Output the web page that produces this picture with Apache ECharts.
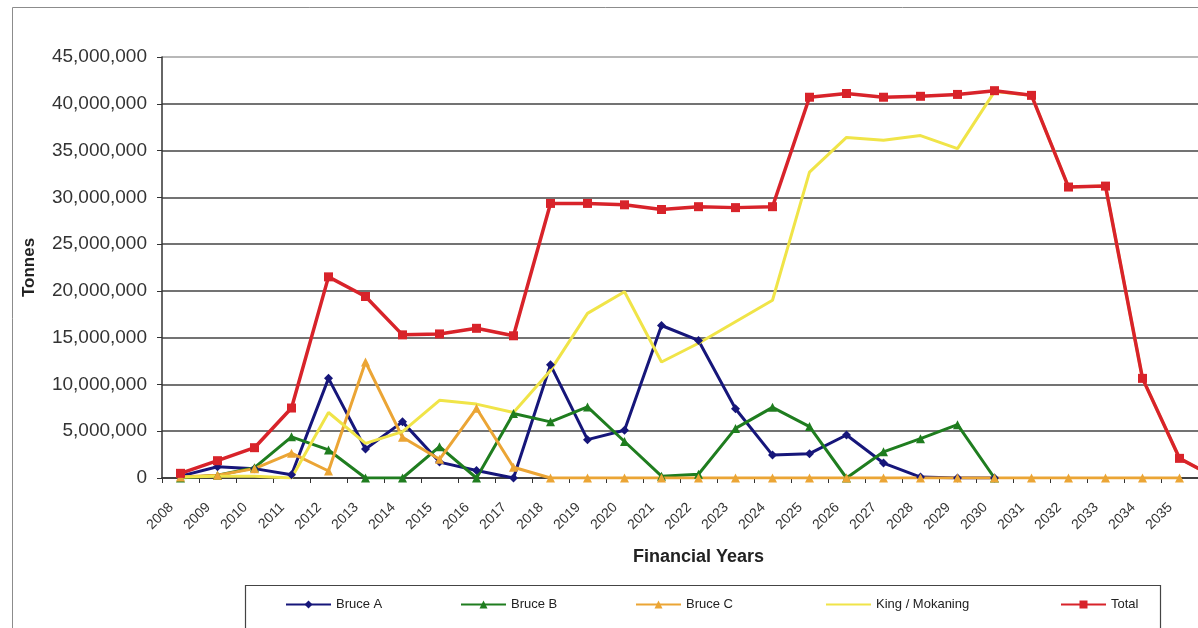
<!DOCTYPE html>
<html>
<head>
<meta charset="utf-8">
<script src="https://cdn.jsdelivr.net/npm/echarts@6/dist/echarts.min.js"></script>
<style>
  html, body { margin: 0; padding: 0; background: #ffffff; }
  #chart { width: 1198px; height: 628px; }
</style>
</head>
<body>
<div id="chart"></div>
<script>
// Financial years (last category is the partially visible year beyond the crop)
var years = ['2008','2009','2010','2011','2012','2013','2014','2015','2016','2017',
             '2018','2019','2020','2021','2022','2023','2024','2025','2026','2027',
             '2028','2029','2030','2031','2032','2033','2034','2035',''];

var bruceA = [200000, 1200000, 1000000, 350000, 10650000, 3100000, 6000000, 1700000, 800000, 0,
              12100000, 4100000, 5100000, 16300000, 14700000, 7400000, 2450000, 2600000, 4600000, 1600000,
              100000, 0, 0, null, null, null, null, null, null];

var bruceB = [0, 300000, 1100000, 4400000, 3000000, 0, 0, 3350000, 0, 6900000,
              6000000, 7600000, 3900000, 200000, 400000, 5300000, 7550000, 5500000, 0, 2800000,
              4200000, 5700000, 0, null, null, null, null, null, null];

var bruceC = [100000, 300000, 1000000, 2650000, 750000, 12400000, 4350000, 2000000, 7450000, 1150000,
              0, 0, 0, 0, 0, 0, 0, 0, 0, 0,
              0, 0, 0, 0, 0, 0, 0, 0, null];

var kingMokaning = [100000, 200000, 200000, 0, 7000000, 3700000, 4950000, 8300000, 7900000, 7000000,
                    11500000, 17600000, 19900000, 12400000, 14400000, 16700000, 19000000, 32700000, 36400000, 36100000,
                    36600000, 35200000, 41300000, 40900000, 31100000, 31200000, 10650000, 2100000, 0];

var total = [500000, 1850000, 3240000, 7480000, 21500000, 19400000, 15300000, 15400000, 16000000, 15200000,
             29350000, 29350000, 29200000, 28700000, 29000000, 28900000, 29000000, 40700000, 41100000, 40700000,
             40800000, 41000000, 41400000, 40900000, 31100000, 31200000, 10650000, 2100000, 0];

var seriesNames = ['Bruce A', 'Bruce B', 'Bruce C', 'King / Mokaning', 'Total'];
var seriesColors = ['#16167a', '#1f7d1f', '#eba535', '#f0e448', '#d8232a'];

var chart = echarts.init(document.getElementById('chart'), null, { renderer: 'canvas' });

function mkSeries(name, data, color, symbol, size, width) {
  return {
    name: name,
    type: 'line',
    data: data,
    symbol: symbol,
    symbolSize: size,
    showSymbol: symbol !== 'none',
    itemStyle: { color: color },
    lineStyle: { color: color, width: width },
    connectNulls: false,
    emphasis: { disabled: true }
  };
}

var legendLefts = [285, 460, 635, 825, 1060];

var legends = seriesNames.map(function (n, i) {
  var d = { name: n };
  if (n === 'King / Mokaning') { d.itemStyle = { opacity: 0 }; }
  return {
    data: [d],
    left: legendLefts[i],
    top: 598,
    padding: 0,
    itemWidth: 45,
    itemHeight: 10,
    selectedMode: false,
    textStyle: { fontFamily: 'Liberation Sans, Arial, sans-serif', fontSize: 13, color: '#222222' }
  };
});

var option = {
  animation: false,
  backgroundColor: '#ffffff',
  graphic: [{
    type: 'rect',
    shape: { x: 12.5, y: 7.5, width: 1300, height: 700 },
    style: { fill: 'none', stroke: '#8c8c8c', lineWidth: 1 },
    silent: true
  }, {
    type: 'rect',
    shape: { x: 245.5, y: 585.5, width: 915, height: 70 },
    style: { fill: 'none', stroke: '#444444', lineWidth: 1.2 },
    silent: true
  }],
  grid: { left: 162, top: 57, width: 1073, bottom: 150, outerBoundsMode: 'none', containLabel: false },
  legend: legends,
  xAxis: {
    type: 'category',
    data: years,
    boundaryGap: true,
    name: 'Financial Years',
    nameLocation: 'middle',
    nameGap: 70,
    nameTextStyle: { fontFamily: 'Liberation Sans, Arial, sans-serif', fontWeight: 'bold', fontSize: 18, color: '#222222' },
    axisLine: { show: true, lineStyle: { color: '#333333', width: 1.5 } },
    axisTick: { show: true, length: 5, lineStyle: { color: '#333333' } },
    axisLabel: {
      interval: 0,
      rotate: 45,
      margin: 18,
      padding: [0, 13, 0, 0],
      fontFamily: 'Liberation Sans, Arial, sans-serif',
      fontSize: 14,
      color: '#333333'
    },
    splitLine: { show: false }
  },
  yAxis: {
    type: 'value',
    min: 0,
    max: 45000000,
    interval: 5000000,
    name: 'Tonnes',
    nameLocation: 'middle',
    nameGap: 124,
    nameTextStyle: { fontFamily: 'Liberation Sans, Arial, sans-serif', fontWeight: 'bold', fontSize: 17, color: '#222222' },
    axisLine: { show: true, lineStyle: { color: '#333333', width: 1.5 } },
    axisTick: { show: true, length: 5, lineStyle: { color: '#333333' } },
    axisLabel: {
      margin: 15,
      fontFamily: 'Liberation Sans, Arial, sans-serif',
      fontSize: 19,
      color: '#333333',
      formatter: function (v) { return Number(v).toLocaleString('en-US'); }
    },
    splitLine: {
      show: true,
      lineStyle: {
        color: ['#444444', '#444444', '#444444', '#444444', '#444444', '#444444', '#444444', '#444444', '#444444', '#a0a0a0'],
        width: 1.5
      }
    }
  },
  series: [
    mkSeries(seriesNames[0], bruceA, seriesColors[0], 'diamond', 9, 3),
    mkSeries(seriesNames[1], bruceB, seriesColors[1], 'triangle', 9, 3),
    mkSeries(seriesNames[2], bruceC, seriesColors[2], 'triangle', 9, 3),
    mkSeries(seriesNames[3], kingMokaning, seriesColors[3], 'none', 0, 3),
    mkSeries(seriesNames[4], total, seriesColors[4], 'rect', 9, 3.5)
  ]
};

chart.setOption(option);
</script>
</body>
</html>
